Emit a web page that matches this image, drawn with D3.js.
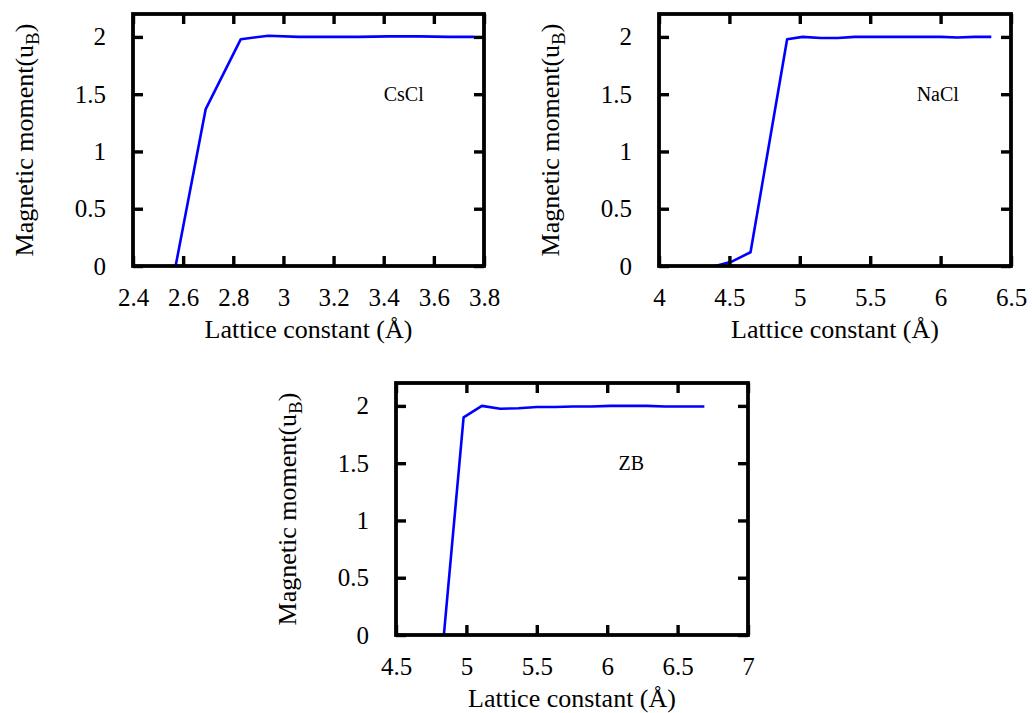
<!DOCTYPE html>
<html>
<head>
<meta charset="utf-8">
<script src="https://cdn.jsdelivr.net/npm/d3@7"></script>
<style>
  html, body { margin: 0; padding: 0; background: #fff; }
  svg, svg text, svg tspan { font-family: "Liberation Serif", "Times New Roman", "DejaVu Serif", serif !important; }
</style>
</head>
<body>
<svg id="chart" width="1032" height="713" font-family="Liberation Serif, serif"></svg>
<script>
// ---- Data ----
const yTicks = [0, 0.5, 1, 1.5, 2];
const yTickLabels = ["0", "0.5", "1", "1.5", "2"];

const csclLattice = [2.57, 2.69, 2.83, 2.94, 3.06, 3.18, 3.30, 3.42, 3.54, 3.66, 3.76];
const csclMoment  = [0.00, 1.37, 1.98, 2.01, 2.00, 2.00, 2.00, 2.005, 2.005, 2.00, 2.00];
const csclXTicks  = [2.4, 2.6, 2.8, 3.0, 3.2, 3.4, 3.6, 3.8];
const csclXLabels = ["2.4", "2.6", "2.8", "3", "3.2", "3.4", "3.6", "3.8"];

const naclLattice = [4.40, 4.52, 4.65, 4.78, 4.91, 5.02, 5.15, 5.27, 5.39, 5.51, 5.64, 5.76, 5.88, 6.00, 6.12, 6.24, 6.36];
const naclMoment  = [0.00, 0.04, 0.12, 1.05, 1.98, 2.00, 1.99, 1.99, 2.00, 2.00, 2.00, 2.00, 2.00, 2.00, 1.995, 2.00, 2.00];
const naclXTicks  = [4, 4.5, 5, 5.5, 6, 6.5];
const naclXLabels = ["4", "4.5", "5", "5.5", "6", "6.5"];

const zbLattice = [4.84, 4.98, 5.11, 5.24, 5.37, 5.50, 5.63, 5.76, 5.89, 6.02, 6.15, 6.28, 6.41, 6.55, 6.69];
const zbMoment  = [0.00, 1.90, 2.00, 1.975, 1.98, 1.99, 1.99, 1.995, 1.995, 2.00, 2.00, 2.00, 1.995, 1.995, 1.995];
const zbXTicks  = [4.5, 5, 5.5, 6, 6.5, 7];
const zbXLabels = ["4.5", "5", "5.5", "6", "6.5", "7"];

const structureNames = ["CsCl", "NaCl", "ZB"];
const labelPos = [[3.4, 1.5], [5.83, 1.5], [6.08, 1.5]];
const xTitle = "Lattice constant (Å)";

// ---- Drawing ----
const FONT = "Liberation Serif, Times New Roman, serif";
const svg = d3.select("#chart");

function panel(cfg) {
  const { left, top, width, height, xDomain, xTicks, xLabels, xs, ys, name, lab } = cfg;
  const g = svg.append("g").attr("transform", `translate(${left},${top})`);
  const x = d3.scaleLinear().domain(xDomain).range([0, width]);
  const y = d3.scaleLinear().domain([0, 2.2]).range([height, 0]);

  // data line
  const pts = xs.map((v, i) => [v, ys[i]]);
  g.append("path")
    .datum(pts)
    .attr("fill", "none")
    .attr("stroke", "#0000ff")
    .attr("stroke-width", 2.6)
    .attr("stroke-linejoin", "round")
    .attr("d", d3.line().x(d => x(d[0])).y(d => y(d[1])));

  const tickFmt = (labels, ticks) => (d) => labels[ticks.indexOf(d)];

  const bottom = g.append("g").attr("transform", `translate(0,${height})`)
    .call(d3.axisBottom(x).tickValues(xTicks).tickFormat(tickFmt(xLabels, xTicks))
      .tickSizeInner(-10).tickSizeOuter(0).tickPadding(22));
  const topAx = g.append("g")
    .call(d3.axisTop(x).tickValues(xTicks).tickFormat("").tickSizeInner(-10).tickSizeOuter(0));
  const leftAx = g.append("g")
    .call(d3.axisLeft(y).tickValues(yTicks).tickFormat(tickFmt(yTickLabels, yTicks))
      .tickSizeInner(-10).tickSizeOuter(0).tickPadding(27));
  const rightAx = g.append("g").attr("transform", `translate(${width},0)`)
    .call(d3.axisRight(y).tickValues(yTicks).tickFormat("").tickSizeInner(-10).tickSizeOuter(0));

  [bottom, topAx, leftAx, rightAx].forEach(a => {
    a.attr("font-family", FONT).attr("font-size", 25);
    a.select(".domain").remove();
    a.selectAll(".tick line").attr("stroke", "#000").attr("stroke-width", 3.4);
    a.selectAll(".tick text")
      .attr("font-family", FONT)
      .attr("font-size", 25).attr("fill", "#000");
  });
  bottom.selectAll(".tick text").attr("dy", "0.71em");

  // frame
  g.append("rect")
    .attr("x", 0).attr("y", 0).attr("width", width).attr("height", height)
    .attr("fill", "none").attr("stroke", "#000").attr("stroke-width", 3.8);

  // structure label
  g.append("text")
    .attr("x", x(lab[0])).attr("y", y(lab[1]))
    .attr("dy", "0.35em")
    .attr("font-family", FONT)
    .attr("font-size", 20)
    .text(name);

  // x title
  g.append("text")
    .attr("x", width / 2).attr("y", height + 72)
    .attr("text-anchor", "middle")
    .attr("font-family", FONT)
    .attr("font-size", 26)
    .text(xTitle);

  // y title
  const yt = g.append("text")
    .attr("transform", `translate(-100,${height / 2}) rotate(-90)`)
    .attr("text-anchor", "middle")
    .attr("font-family", FONT)
    .attr("font-size", 26);
  yt.append("tspan").text("Magnetic moment(u");
  yt.append("tspan").attr("font-size", 19).attr("dy", 6).text("B");
  yt.append("tspan").attr("dy", -6).text(")");
}

panel({ left: 133, top: 14, width: 351, height: 252, xDomain: [2.4, 3.8],
  xTicks: csclXTicks, xLabels: csclXLabels, xs: csclLattice, ys: csclMoment,
  name: structureNames[0], lab: labelPos[0] });
panel({ left: 659, top: 14, width: 352, height: 252, xDomain: [4, 6.5],
  xTicks: naclXTicks, xLabels: naclXLabels, xs: naclLattice, ys: naclMoment,
  name: structureNames[1], lab: labelPos[1] });
panel({ left: 396, top: 383, width: 352, height: 252, xDomain: [4.5, 7],
  xTicks: zbXTicks, xLabels: zbXLabels, xs: zbLattice, ys: zbMoment,
  name: structureNames[2], lab: labelPos[2] });
</script>
</body>
</html>
